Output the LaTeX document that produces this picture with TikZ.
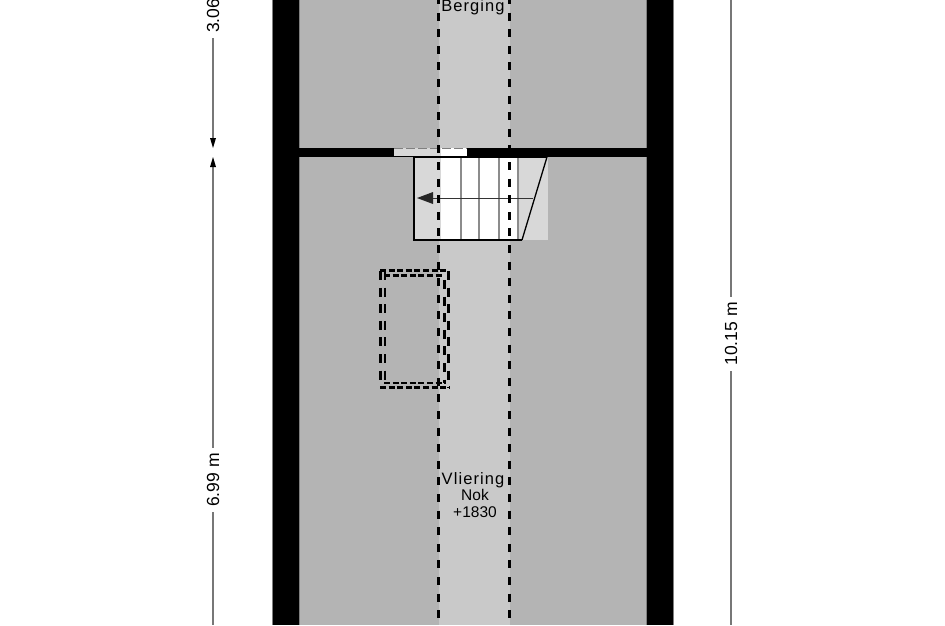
\documentclass[tikz,border=0pt]{standalone}
\usepackage{fontspec}
\setmainfont{Liberation Sans}
\definecolor{roofgray}{HTML}{B4B4B4}
\definecolor{ridgegray}{HTML}{C9C9C9}
\definecolor{stairgray}{HTML}{D8D8D8}
\definecolor{dimgray}{HTML}{777777}
\tikzset{
  dashline/.style={line width=2.7pt,dash pattern=on 8pt off 8.6pt},
  winh/.style={line width=2.9pt,dash pattern=on 6pt off 2.6pt},
  winv/.style={line width=2.9pt,dash pattern=on 9pt off 7.6pt},
  dimline/.style={draw=dimgray,line width=1.5pt},
  tread/.style={draw=black!45,line width=1.2pt},
  lbl/.style={inner sep=0pt,text=black},
  wide/.style={font=\fontsize{16.5}{16}\selectfont\addfontfeature{LetterSpace=6.5}},
  plain/.style={font=\fontsize{15.5}{16}\selectfont},
  dimlbl/.style={font=\fontsize{17.5}{18}\selectfont,inner ysep=1pt,inner xsep=5.5pt,rotate=90,text=black},
  dimtip/.style={fill=black}
}
\begin{document}
\begin{tikzpicture}[x=1pt,y=-1pt]
\useasboundingbox (0,0) rectangle (945,625);
\fill[white] (0,0) rectangle (945,625);
% floors
\fill[roofgray] (299,0) rectangle (646,625);
\fill[ridgegray] (439,0) rectangle (510,625);
% stair
\fill[stairgray] (414,157) rectangle (548,240);
\fill[white] (441,157) rectangle (518,240);
\draw[tread] (461,157)--(461,240) (479,157)--(479,240) (499,157)--(499,240) (518,157)--(518,240);
% walls
\fill[black] (272,0) rectangle (299,625);
\fill[black] (646,0) rectangle (673,625);
\draw[gray,line width=.6pt] (299,0)--(299,625) (646,0)--(646,625) (272,0)--(272,625) (673,0)--(673,625);
\fill[black] (297,148) rectangle (648,157);
% door
\fill[stairgray] (394,148) rectangle (441,156);
\fill[white] (441,148) rectangle (467,156);
\draw[gray,line width=.8pt,dash pattern=on 9pt off 3pt] (394,148.5)--(467,148.5);
% stair outline
\coordinate (s1) at (547,157);
\coordinate (s2) at (522,240);
\coordinate (s3) at (414,240);
\coordinate (s4) at (414,157);
\draw[black,line width=1.7pt,line join=miter] (s1)--(s4)--(s3)--(s2);
\draw[black,line width=1.3pt] (s1)--(s2);
\draw[black!80,line width=.9pt] (432,198)--(533,198);
\fill[black!85] (417,198)--(433,192)--(433,204)--cycle;
% ridge dashes
\coordinate (la) at (438.5,-4);
\coordinate (lb) at (438.5,625);
\coordinate (ra) at (509.5,-4);
\coordinate (rb) at (509.5,625);
\draw[dashline] (la)--(lb);
\draw[dashline] (ra)--(rb);
% roof window
\draw[winh] (380,270.5)--(448.5,270.5);
\draw[winh] (384,275.5)--(444,275.5);
\draw[winh] (384,383)--(446,383);
\draw[winh] (380,387.6)--(449,387.6);
\draw[winv] (380.5,271)--(380.5,382);
\draw[winv] (385,271)--(385,382);
\draw[winv] (444.3,280)--(444.3,383);
\draw[winv] (448.5,271)--(448.5,388);
% text
\node[lbl,wide] (berg) at (473,7.5) {Berging};
\node[lbl,wide] (vl) at (473,480.5) {Vliering};
\node[lbl,plain] (nok) at (475,495) {Nok};
\node[lbl,plain] (lvl) at (475,512) {+1830};
% dimensions
\node[dimlbl] (d306) at (213,6) {3.06 m};
\node[dimlbl] (d699) at (213,480) {6.99 m};
\node[dimlbl] (d1015) at (731,334) {10.15 m};
\coordinate (a1) at (213,148);
\coordinate (a2) at (213,157);
\coordinate (b0) at (213,625);
\coordinate (c1) at (731,0);
\coordinate (c2) at (731,625);
\draw[dimline] (d306.west)--(213,140);
\fill[dimtip] (a1)--(210,138)--(216,138)--cycle;
\draw[dimline] (213,165)--(d699.east);
\draw[dimline] (d699.west)--(b0);
\fill[dimtip] (a2)--(210,167)--(216,167)--cycle;
\draw[dimline] (c1)--(d1015.east);
\draw[dimline] (d1015.west)--(c2);
\end{tikzpicture}
\end{document}
